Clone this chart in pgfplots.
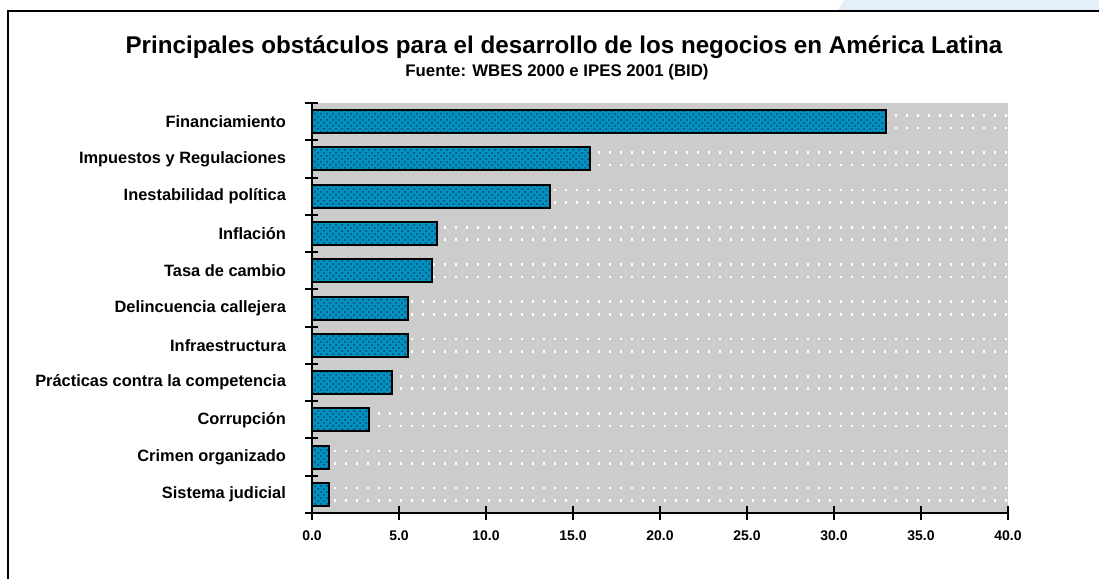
\documentclass[border=0pt]{standalone}
\usepackage{fontspec}
\setmainfont{Liberation Sans}
\usepackage{pgfplots}
\pgfplotsset{compat=1.18}
\usetikzlibrary{patterns}
\definecolor{barfill}{RGB}{0,145,190}
\definecolor{barpat}{RGB}{10,65,115}
\definecolor{bggray}{RGB}{204,204,204}
\definecolor{cornerblue}{RGB}{228,239,250}
\begin{document}
\begin{tikzpicture}
\useasboundingbox (0,0) rectangle (549.5pt,289.5pt);
% frame and corner
\fill[cornerblue] (422pt,289.5pt) -- (549.5pt,289.5pt) -- (549.5pt,284.5pt) -- (419pt,284.5pt) -- cycle;
\draw[line width=1.1pt] (4pt,0pt) -- (4pt,284pt) -- (549.5pt,284pt);
% titles
\node[font=\bfseries\fontsize{12.1}{14}\selectfont] at (282pt,266pt)
  {Principales obstáculos para el desarrollo de los negocios en América Latina};
\node[font=\bfseries\fontsize{8.4}{10}\selectfont] at (278.5pt,253.5pt)
  {Fuente: WBES 2000 e IPES 2001 (BID)};
\begin{axis}[
    at={(156pt,33pt)}, anchor=south west,
    scale only axis,
    width=348pt, height=205pt,
    xbar,
    bar width=11.5pt,
    xmin=0, xmax=40,
    ymin=-0.5, ymax=10.5,
    axis x line*=bottom,
    axis y line*=left,
    axis line style={line width=1pt},
    axis background/.style={fill=bggray},
    xtick={0,5,...,40},
    ytick={0,...,10},
    yticklabels={Sistema judicial, Crimen organizado, Corrupción,
      Prácticas contra la competencia, Infraestructura,
      Delincuencia callejera, Tasa de cambio, Inflación,
      Inestabilidad política, Impuestos y Regulaciones, Financiamiento},
    minor ytick={-0.5,0.5,...,10.5},
    tick align=center,
    major tick length=7pt,
    minor tick length=6.5pt,
    x tick style={line width=0.9pt, black},
    minor y tick style={line width=1pt, black},
    major y tick style={draw=none},
    /pgf/number format/.cd, fixed, fixed zerofill, precision=1, assume math mode=true,
    /pgfplots/.cd,
    xticklabel style={font=\bfseries\fontsize{7}{8}\selectfont, yshift=-2pt},
    yticklabel style={font=\bfseries\fontsize{8.2}{9}\selectfont, xshift=-6pt},
    extra y ticks={-0.1667,0.1667,0.8333,1.1667,1.8333,2.1667,2.8333,3.1667,
      3.8333,4.1667,4.8333,5.1667,5.8333,6.1667,6.8333,7.1667,7.8333,8.1667,
      8.8333,9.1667,9.8333,10.1667},
    extra y tick labels={},
    extra y tick style={grid=major},
    major grid style={white, line width=1.3pt, dash pattern=on 1.2pt off 4.3pt},
    clip=false,
]
\addplot[draw=black, line width=1pt, fill=barfill,
  postaction={pattern=crosshatch dots, pattern color=barpat}]
  coordinates {
    (1.0,0) (1.0,1) (3.3,2) (4.6,3) (5.5,4) (5.5,5)
    (6.9,6) (7.2,7) (13.7,8) (16.0,9) (33.0,10)
  };
\end{axis}
\end{tikzpicture}
\end{document}
